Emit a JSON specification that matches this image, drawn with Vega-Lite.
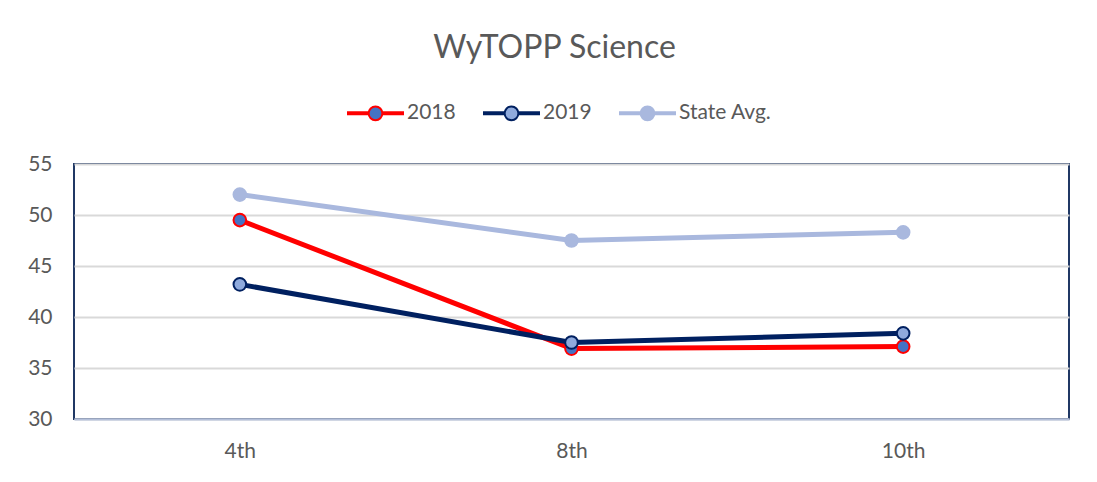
{
  "$schema": "https://vega.github.io/schema/vega-lite/v6.json",
  "width": 995,
  "height": 255,
  "autosize": {"type": "none"},
  "padding": {"left": 74, "top": 164, "right": 28, "bottom": 63},
  "background": "white",
  "title": {
    "text": "WyTOPP Science",
    "anchor": "middle",
    "frame": "group",
    "dx": -17,
    "offset": 20,
    "font": "Lato",
    "fontSize": 32,
    "fontWeight": "normal",
    "color": "#595959"
  },
  "data": {
    "values": [
      {"grade": "4th", "series": "2018", "value": 49.5},
      {"grade": "8th", "series": "2018", "value": 36.9},
      {"grade": "10th", "series": "2018", "value": 37.1},
      {"grade": "4th", "series": "2019", "value": 43.2},
      {"grade": "8th", "series": "2019", "value": 37.5},
      {"grade": "10th", "series": "2019", "value": 38.4},
      {"grade": "4th", "series": "State Avg.", "value": 52.0},
      {"grade": "8th", "series": "State Avg.", "value": 47.5},
      {"grade": "10th", "series": "State Avg.", "value": 48.3}
    ]
  },
  "config": {
    "view": {"stroke": "#203864", "strokeWidth": 2},
    "font": "Lato",
    "axis": {
      "labelFont": "Lato",
      "labelFontSize": 21,
      "labelColor": "#595959",
      "ticks": false,
      "title": null
    },
    "legend": {
      "labelFont": "Lato",
      "labelFontSize": 21,
      "labelColor": "#595959"
    }
  },
  "encoding": {
    "x": {
      "field": "grade",
      "type": "nominal",
      "sort": ["4th", "8th", "10th"],
      "scale": {"type": "point", "padding": 0.5},
      "axis": {
        "labelAngle": 0,
        "labelPadding": 21,
        "domain": true,
        "domainColor": "#B4C0DA",
        "domainWidth": 2,
        "grid": false,
        "zindex": 1
      }
    },
    "y": {
      "field": "value",
      "type": "quantitative",
      "scale": {"domain": [30, 55], "nice": false, "zero": false},
      "axis": {
        "values": [30, 35, 40, 45, 50, 55],
        "labelPadding": 22,
        "domain": false,
        "grid": true,
        "gridColor": "#D9D9D9",
        "gridWidth": 2,
        "zindex": 0
      }
    }
  },
  "layer": [
    {
      "mark": {"type": "line", "strokeWidth": 5},
      "encoding": {
        "stroke": {
          "field": "series",
          "type": "nominal",
          "scale": {"domain": ["2018", "2019", "State Avg."], "range": ["#FF0000", "#002060", "#A9B8DE"]},
          "legend": {
            "title": null,
            "orient": "none",
            "direction": "horizontal",
            "legendX": 273,
            "legendY": -79.5,
            "symbolType": "M-1,-0.036H-0.25V0.036H-1Z M0.25,-0.036H1V0.036H0.25Z M0.25,0A0.25,0.25 0 1 1 -0.25,0A0.25,0.25 0 1 1 0.25,0Z",
            "symbolSize": 3025,
            "symbolStrokeWidth": 2,
            "labelOffset": 3,
            "columnPadding": 24
          }
        }
      }
    },
    {
      "mark": {"type": "point", "filled": true, "size": 160, "strokeWidth": 2, "opacity": 1},
      "encoding": {
        "fill": {
          "field": "series",
          "type": "nominal",
          "scale": {"domain": ["2018", "2019", "State Avg."], "range": ["#4472C4", "#8FAADC", "#A9B8DE"]},
          "legend": {
            "title": null,
            "orient": "none",
            "direction": "horizontal",
            "legendX": 273,
            "legendY": -79.5,
            "symbolType": "M-1,-0.036H-0.25V0.036H-1Z M0.25,-0.036H1V0.036H0.25Z M0.25,0A0.25,0.25 0 1 1 -0.25,0A0.25,0.25 0 1 1 0.25,0Z",
            "symbolSize": 3025,
            "symbolStrokeWidth": 2,
            "labelOffset": 3,
            "columnPadding": 24
          }
        },
        "stroke": {"field": "series", "type": "nominal"}
      }
    }
  ]
}
